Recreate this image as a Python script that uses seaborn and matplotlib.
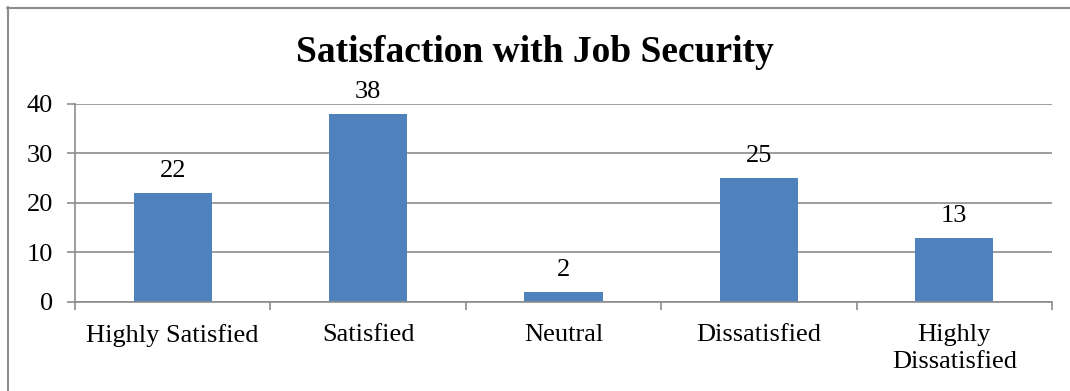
import matplotlib
matplotlib.use("Agg")
import matplotlib.pyplot as plt
import seaborn as sns
import pandas as pd
from matplotlib.lines import Line2D

categories = ["Highly Satisfied", "Satisfied", "Neutral", "Dissatisfied", "Highly\nDissatisfied"]
values = [22, 38, 2, 25, 13]
yticks = [0, 10, 20, 30, 40]
title = "Satisfaction with Job Security"

sns.set_style("white")
plt.rcParams['font.family'] = ['Liberation Serif', 'DejaVu Serif']
plt.rcParams['text.color'] = 'black'
plt.rcParams['xtick.labelcolor'] = 'black'
plt.rcParams['ytick.labelcolor'] = 'black'

df = pd.DataFrame({"cat": categories, "val": values})

fig = plt.figure(figsize=(10.70, 3.91), dpi=100)
W, H = 1070, 391
ax = fig.add_axes([75 / W, 1 - 302 / H, (1052 - 75) / W, (302 - 104) / H])

sns.barplot(data=df, x="cat", y="val", color="#4F81BD", saturation=1, width=0.4,
            linewidth=0, ax=ax)

ax.set_ylim(0, 40)
ax.set_xlim(-0.5, len(categories) - 0.5)
ax.set_yticks(yticks)
ax.set_xlabel("")
ax.set_ylabel("")
ax.yaxis.grid(True, color="#8C8C8C", linewidth=1.2)
ax.set_axisbelow(True)
for s in ["top", "right"]:
    ax.spines[s].set_visible(False)
for s in ["left", "bottom"]:
    ax.spines[s].set_color("#8C8C8C")
    ax.spines[s].set_linewidth(1.2)

ax.tick_params(axis="y", length=6, color="#8C8C8C", width=1.2, labelsize=19, pad=10, left=True)
ax.tick_params(axis="x", length=0, labelsize=19, pad=16)
ax.set_xticks(range(len(categories)))
ax.set_xticklabels(categories, linespacing=1.3)
ax.set_xticks([i + 0.5 for i in range(-1, len(categories))], minor=True)
ax.tick_params(axis="x", which="minor", length=6, color="#8C8C8C", width=1.2, bottom=True)

for c in ax.containers:
    ax.bar_label(c, fmt="%d", padding=8, fontsize=19, color="black")

fig.text(0.5, 1 - 53 / H, title, ha="center", va="center", fontsize=27,
         fontweight="bold", color="black")

fig.lines.append(Line2D([7 / W, 1.0], [1 - 8 / H, 1 - 8 / H], transform=fig.transFigure,
                        color="#8C8C8C", linewidth=1.5))
fig.lines.append(Line2D([8 / W, 8 / W], [0, 1 - 7 / H], transform=fig.transFigure,
                        color="#8C8C8C", linewidth=1.5))

fig.savefig("out.png", dpi=100)
